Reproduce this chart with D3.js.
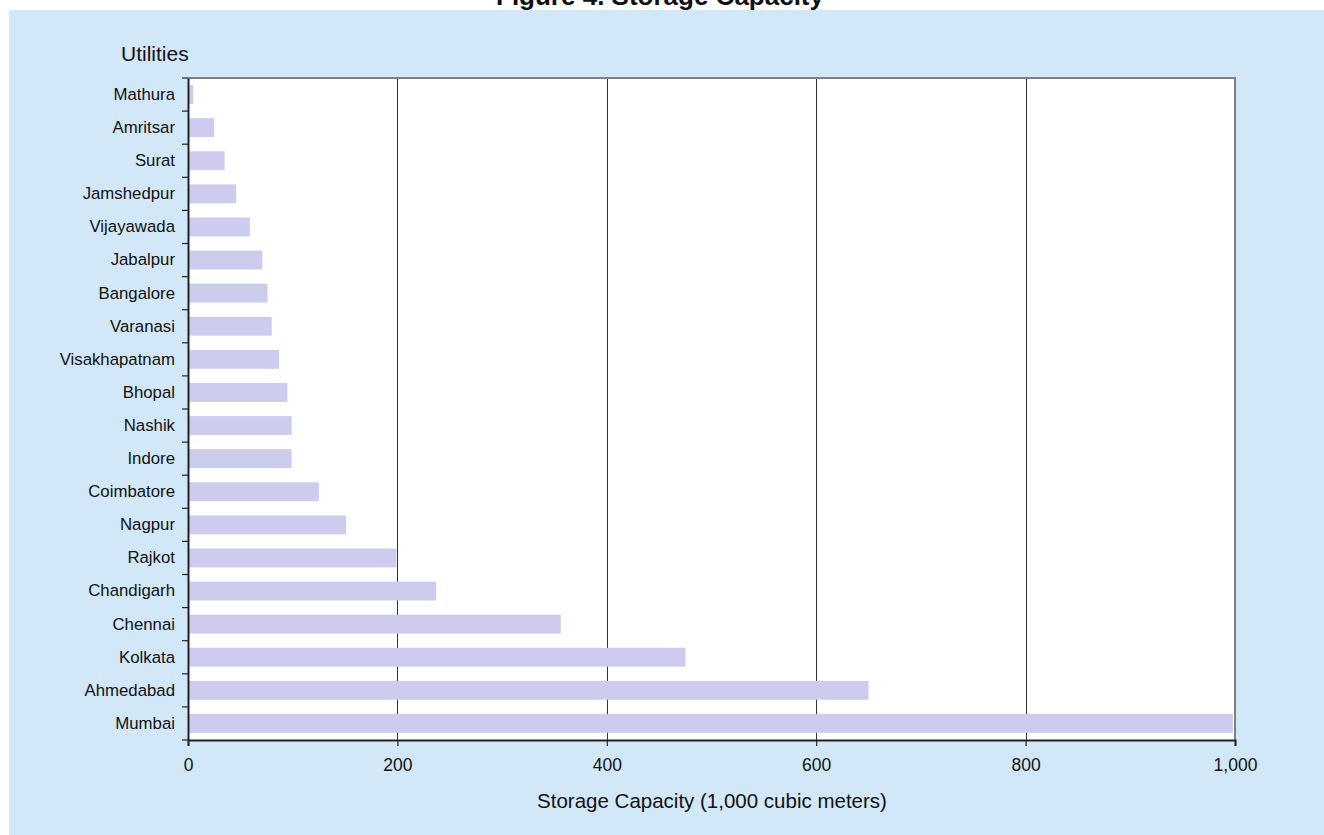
<!DOCTYPE html>
<html>
<head>
<meta charset="utf-8">
<script src="https://cdn.jsdelivr.net/npm/d3@7"></script>
<style>
html,body{margin:0;padding:0;background:#fff;}
svg{display:block;font-family:"Liberation Sans",Arial,Helvetica,sans-serif;}
</style>
</head>
<body>
<svg id="chart" width="1324" height="835"></svg>
<script>
const categories = ["Mathura","Amritsar","Surat","Jamshedpur","Vijayawada","Jabalpur","Bangalore","Varanasi","Visakhapatnam","Bhopal","Nashik","Indore","Coimbatore","Nagpur","Rajkot","Chandigarh","Chennai","Kolkata","Ahmedabad","Mumbai"];
const capacity = [5,25,35,46,59,71,76,80,87,95,99,99,125,151,199,237,356,475,650,998];
const xTicks = [0,200,400,600,800,1000];
const titleText = "Figure 4. Storage Capacity";
const yAxisTitle = "Utilities";
const xAxisTitle = "Storage Capacity (1,000 cubic meters)";

const svg = d3.select("#chart");
const W = 1324, H = 835;
const plot = {left:188, top:78, right:1235, bottom:740};

svg.append("rect").attr("x",0).attr("y",0).attr("width",W).attr("height",H).attr("fill","#ffffff");
svg.append("rect").attr("x",9).attr("y",10).attr("width",W-9).attr("height",H-10).attr("fill","#D2E8F8");

const x = d3.scaleLinear().domain([0,1000]).range([plot.left, plot.right]);
const y = d3.scaleBand().domain(categories).range([plot.top, plot.bottom]).paddingInner(0.43).paddingOuter(0.215);

// plot background
svg.append("rect").attr("x",plot.left).attr("y",plot.top).attr("width",plot.right-plot.left).attr("height",plot.bottom-plot.top).attr("fill","#ffffff");

// gridlines
svg.append("g").selectAll("line").data(xTicks.filter(d=>d>0 && d<1000)).join("line")
  .attr("x1",d=>Math.round(x(d))+0.5).attr("x2",d=>Math.round(x(d))+0.5)
  .attr("y1",plot.top).attr("y2",plot.bottom)
  .attr("stroke","#333").attr("stroke-width",1);

// bars
svg.append("g").selectAll("rect").data(categories).join("rect")
  .attr("x",x(0)).attr("y",d=>y(d))
  .attr("width",(d,i)=>x(capacity[i])-x(0))
  .attr("height",y.bandwidth())
  .attr("fill","#CCCCEE");

// plot border (top/right)
svg.append("path")
  .attr("d",`M${plot.left},${plot.top} H${plot.right} V${plot.bottom}`)
  .attr("fill","none").attr("stroke","#808080").attr("stroke-width",2);

// x axis
const xAxis = d3.axisBottom(x).tickValues(xTicks).tickFormat(d3.format(",")).tickSize(6).tickPadding(13);
const gx = svg.append("g").attr("transform",`translate(0,${plot.bottom})`).call(xAxis);
gx.select(".domain").attr("stroke","#222").attr("stroke-width",2);
gx.selectAll(".tick line").attr("stroke","#222").attr("stroke-width",1.2);
gx.selectAll(".tick text").attr("font-size","17.5px").attr("fill","#111").attr("font-family","Liberation Sans, Arial, sans-serif");

// y axis (labels)
const yAxis = d3.axisLeft(y).tickSize(0).tickPadding(13);
const gy = svg.append("g").attr("transform",`translate(${plot.left},0)`).call(yAxis);
gy.select(".domain").attr("stroke","#222").attr("stroke-width",2);
gy.selectAll(".tick text").attr("font-size","16.8px").attr("fill","#111").attr("font-family","Liberation Sans, Arial, sans-serif");

// y tick marks at band boundaries
const bounds = d3.range(categories.length+1).map(i => plot.top + (plot.bottom-plot.top)*i/categories.length);
svg.append("g").selectAll("line").data(bounds).join("line")
  .attr("x1",plot.left-6).attr("x2",plot.left)
  .attr("y1",d=>d).attr("y2",d=>d)
  .attr("stroke","#222").attr("stroke-width",1.2);

// titles
svg.append("text").attr("x",660).attr("y",5).attr("text-anchor","middle")
  .attr("font-size","26px").attr("font-weight","bold").attr("fill","#111").text(titleText);
svg.append("text").attr("x",121).attr("y",61).attr("text-anchor","start")
  .attr("font-size","21px").attr("fill","#111").text(yAxisTitle);
svg.append("text").attr("x",712).attr("y",808).attr("text-anchor","middle")
  .attr("font-size","20.5px").attr("fill","#111").text(xAxisTitle);
</script>
</body>
</html>
